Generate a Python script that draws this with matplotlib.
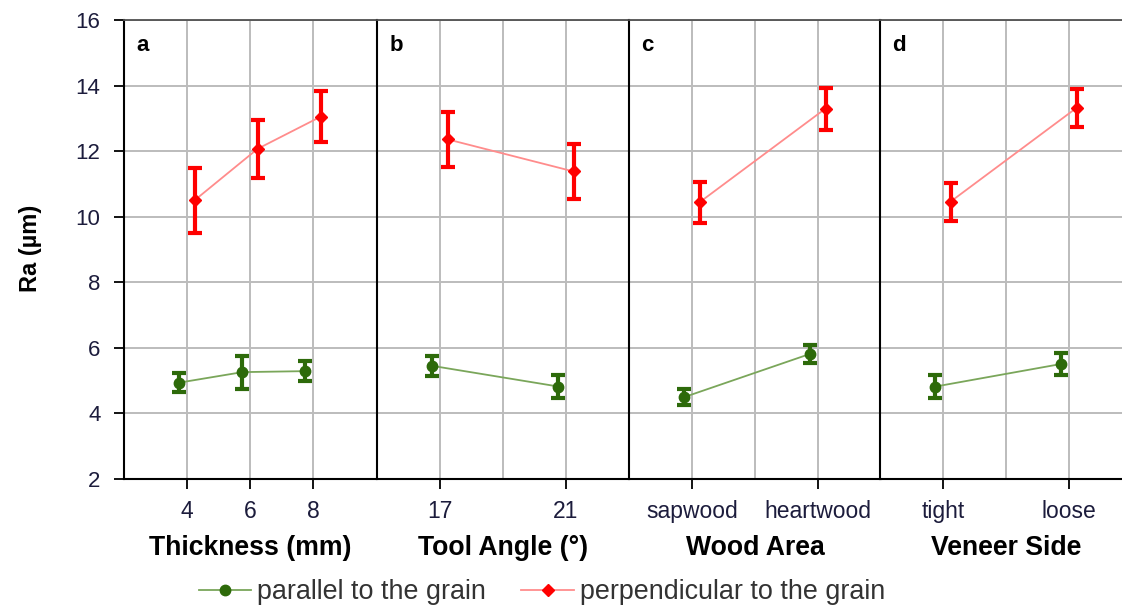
import matplotlib
matplotlib.use("Agg")
import matplotlib.pyplot as plt
from matplotlib.lines import Line2D

plt.rcParams['font.family'] = ['Liberation Sans', 'DejaVu Sans']

# panel a: thickness
thickness = [4, 6, 8]
par_thick = [4.94, 5.26, 5.29]
par_thick_err = [0.30, 0.50, 0.30]
perp_thick = [10.50, 12.07, 13.05]
perp_thick_err = [1.00, 0.88, 0.78]

# panel b: tool angle
angle = [17, 21]
par_angle = [5.45, 4.82]
par_angle_err = [0.31, 0.34]
perp_angle = [12.36, 11.38]
perp_angle_err = [0.83, 0.84]

# panel c: wood area
area = ['sapwood', 'heartwood']
par_area = [4.50, 5.82]
par_area_err = [0.25, 0.28]
perp_area = [10.44, 13.30]
perp_area_err = [0.63, 0.64]

# panel d: veneer side
side = ['tight', 'loose']
par_side = [4.82, 5.51]
par_side_err = [0.34, 0.33]
perp_side = [10.46, 13.32]
perp_side_err = [0.58, 0.59]

green_line = '#7aa65a'
green_mark = '#2d6a0a'
red_line = '#ff8c8c'
red_mark = '#ff0000'
tick_col = '#1c1c3c'

panels = [
    ('a', 'Thickness (mm)', thickness, [str(t) for t in thickness], [4, 6, 8], (2, 10), 2,
     par_thick, par_thick_err, perp_thick, perp_thick_err),
    ('b', 'Tool Angle (°)', angle, [str(a) for a in angle], [17, 19, 21], (15, 23), 2,
     par_angle, par_angle_err, perp_angle, perp_angle_err),
    ('c', 'Wood Area', [0, 2], area, [0, 1, 2], (-1, 3), 1,
     par_area, par_area_err, perp_area, perp_area_err),
    ('d', 'Veneer Side', [0, 2], side, [0, 1, 2], (-1, 3), 1,
     par_side, par_side_err, perp_side, perp_side_err),
]

W, H = 1122, 609
fig = plt.figure(figsize=(W / 100, H / 100), dpi=100)

lefts = [124, 377, 629, 880]
pw = 252
bottom_px, top_px = 479, 20

for i, (letter, xlab, xpos, xlabels, grid_pos, xlim, step,
        py, pe, ry, re) in enumerate(panels):
    ax = fig.add_axes([lefts[i] / W, 1 - bottom_px / H, pw / W, (bottom_px - top_px) / H])
    off = 0.12 * step
    ax.errorbar([x - off for x in xpos], py, yerr=pe, color=green_line, lw=1.3,
                marker='o', ms=7.5, mfc=green_mark, mec=green_mark,
                ecolor=green_mark, elinewidth=3, capsize=5, capthick=3, zorder=3)
    ax.errorbar([x + off for x in xpos], ry, yerr=re, color=red_line, lw=1.3,
                marker='D', ms=6.5, mfc=red_mark, mec=red_mark,
                ecolor=red_mark, elinewidth=3, capsize=5, capthick=3, zorder=3)
    ax.set_xlim(*xlim)
    ax.set_ylim(2, 16)
    ax.set_yticks(range(2, 17, 2))
    ax.xaxis.remove_overlapping_locs = False
    ax.set_xticks(xpos)
    ax.set_xticklabels(xlabels)
    ax.set_xticks(grid_pos, minor=True)
    ax.grid(axis='y', which='major', color='#bcbcbc', lw=1.4)
    ax.grid(axis='x', which='minor', color='#bcbcbc', lw=1.4)
    ax.grid(axis='x', which='major', visible=False)
    ax.set_axisbelow(True)
    ax.tick_params(axis='x', which='minor', length=0)
    ax.tick_params(axis='x', which='major', direction='out', length=7, width=1.3,
                   labelsize=16.5, labelcolor=tick_col, pad=8)
    if i == 0:
        ax.tick_params(axis='y', direction='out', length=7, width=1.3,
                       labelsize=16, labelcolor=tick_col, pad=10)
    else:
        ax.tick_params(axis='y', length=0, labelleft=False)
    for s in ['left', 'bottom']:
        ax.spines[s].set_color('black')
        ax.spines[s].set_linewidth(1.5)
    ax.spines['top'].set_color('#505050')
    ax.spines['top'].set_linewidth(1.3)
    ax.spines['right'].set_visible(False)
    ax.set_xlabel(xlab, fontsize=19.2, fontweight='bold')
    ax.xaxis.label.set_va('center')
    ax.xaxis.set_label_coords(0.5, -0.150)
    ax.text(0.05, 0.945, letter, transform=ax.transAxes, fontsize=16,
            fontweight='bold', ha='left', va='center')

fig.text(30 / W, 1 - 248 / H, 'Ra (µm)', rotation=90, fontsize=17,
         fontweight='bold', ha='center', va='center')

handles = [
    Line2D([], [], color=green_line, lw=1.3, marker='o', ms=7.5,
           mfc=green_mark, mec=green_mark),
    Line2D([], [], color=red_line, lw=1.3, marker='D', ms=6.5,
           mfc=red_mark, mec=red_mark),
]
fig.legend(handles, ['parallel to the grain', 'perpendicular to the grain'],
           loc='center', bbox_to_anchor=(0.483, 0.028), ncol=2, frameon=False,
           fontsize=19.4, handlelength=1.95, handletextpad=0.23, columnspacing=1.3,
           labelcolor='#333333')

fig.savefig('out.png', dpi=100)
